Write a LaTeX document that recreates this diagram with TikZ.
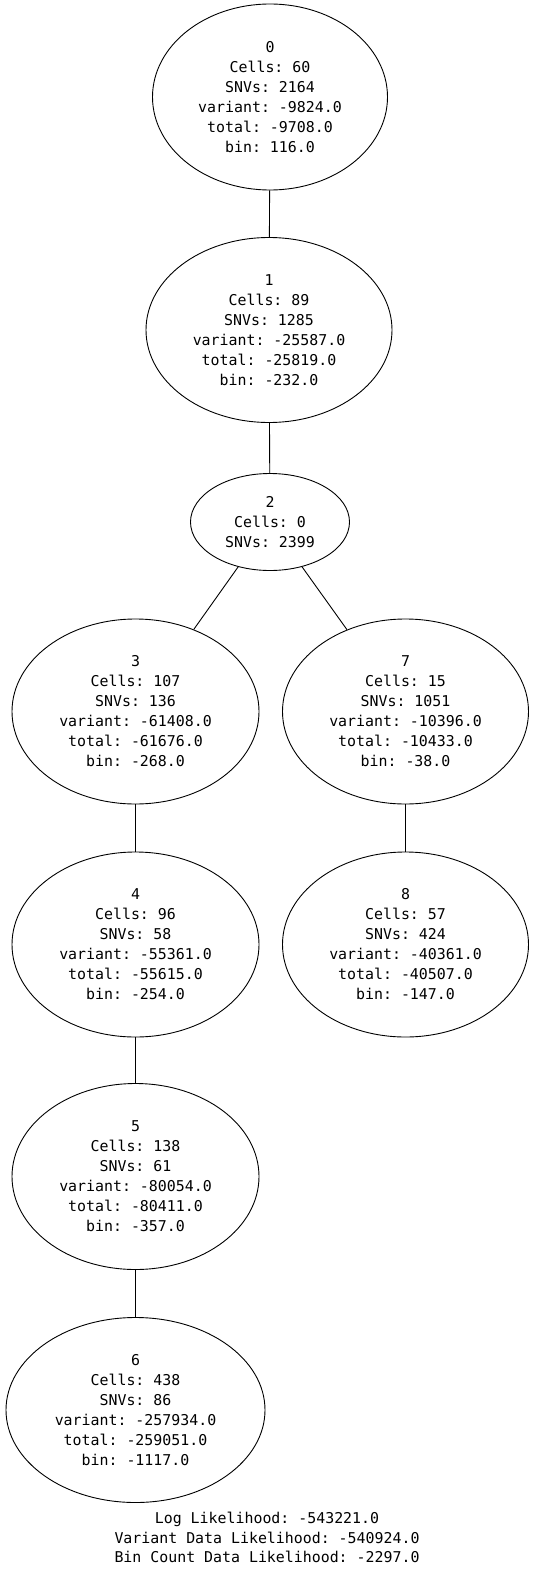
\documentclass[tikz,border=0pt]{standalone}
\usepackage{fontspec}
\setmonofont{DejaVu Sans Mono}
\usetikzlibrary{shapes.geometric}
\begin{document}
\begin{tikzpicture}[x=1pt,y=-1pt,
  tnode/.style={draw,line width=0.9pt,ellipse,inner sep=0pt,align=center,
    font=\ttfamily\fontsize{14.9}{20}\selectfont},
  lbl/.style={align=center,font=\ttfamily\fontsize{14.9}{19.6}\selectfont},
  edge/.style={draw,line width=0.9pt}]
\useasboundingbox (0,0) rectangle (535,1573);
\node[tnode,minimum width=235,minimum height=186] (n0) at (270,97) {0\\Cells: 60\\SNVs: 2164\\variant: -9824.0\\total: -9708.0\\bin: 116.0};
\node[tnode,minimum width=246,minimum height=185] (n1) at (269,330) {1\\Cells: 89\\SNVs: 1285\\variant: -25587.0\\total: -25819.0\\bin: -232.0};
\node[tnode,minimum width=159,minimum height=97] (n2) at (270,522) {2\\Cells: 0\\SNVs: 2399};
\node[tnode,minimum width=247,minimum height=185] (n3) at (135.5,711.5) {3\\Cells: 107\\SNVs: 136\\variant: -61408.0\\total: -61676.0\\bin: -268.0};
\node[tnode,minimum width=246,minimum height=185] (n7) at (405.5,711.5) {7\\Cells: 15\\SNVs: 1051\\variant: -10396.0\\total: -10433.0\\bin: -38.0};
\node[tnode,minimum width=247,minimum height=185] (n4) at (135.5,944.5) {4\\Cells: 96\\SNVs: 58\\variant: -55361.0\\total: -55615.0\\bin: -254.0};
\node[tnode,minimum width=246,minimum height=185] (n8) at (405.5,944.5) {8\\Cells: 57\\SNVs: 424\\variant: -40361.0\\total: -40507.0\\bin: -147.0};
\node[tnode,minimum width=247,minimum height=186] (n5) at (135.5,1176.5) {5\\Cells: 138\\SNVs: 61\\variant: -80054.0\\total: -80411.0\\bin: -357.0};
\node[tnode,minimum width=259,minimum height=185] (n6) at (135.5,1410) {6\\Cells: 438\\SNVs: 86\\variant: -257934.0\\total: -259051.0\\bin: -1117.0};
\node[lbl] (ll) at (267,1537.5) {Log Likelihood: -543221.0\\Variant Data Likelihood: -540924.0\\Bin Count Data Likelihood: -2297.0};
\draw[edge] (n0) -- (n1);
\draw[edge] (n1) -- (n2);
\draw[edge] (n2) -- (n3);
\draw[edge] (n2) -- (n7);
\draw[edge] (n3) -- (n4);
\draw[edge] (n7) -- (n8);
\draw[edge] (n4) -- (n5);
\draw[edge] (n5) -- (n6);
\end{tikzpicture}
\end{document}
